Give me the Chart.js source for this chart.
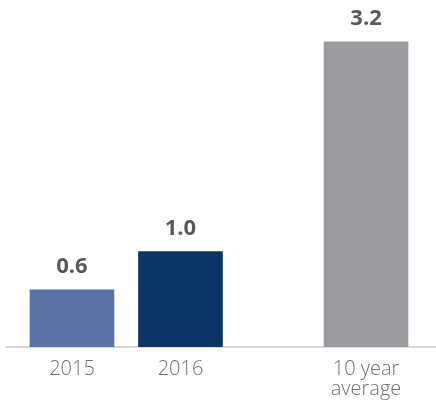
<!DOCTYPE html>
<html>
<head>
<meta charset="utf-8">
<script src="https://cdn.jsdelivr.net/npm/chart.js@4"></script>
<style>
  html, body { margin: 0; padding: 0; background: #fff; }
  #wrap { width: 436px; height: 410px; }
</style>
</head>
<body>
<div id="wrap"><canvas id="barChart"></canvas></div>
<script>
// Chart data
const categories = ['2015', '2016', '10 year average'];
const values = [0.6, 1.0, 3.2];
const barColors = ['#5a72a6', '#0b3567', '#9b9b9f'];
// x slot of each bar (the average sits apart from the yearly bars)
const slots = [0, 1, 2.71];

// Split long category names over two lines
function tickLabel(name) {
    return name === '10 year average' ? ['10 year', 'average'] : name;
}

// Draw the value above each bar
const valueLabels = {
    id: 'valueLabels',
    afterDatasetsDraw(chart) {
        const ctx = chart.ctx;
        const meta = chart.getDatasetMeta(0);
        ctx.save();
        ctx.font = 'bold 22px "Open Sans"';
        ctx.fillStyle = '#58595b';
        ctx.textAlign = 'center';
        ctx.textBaseline = 'middle';
        meta.data.forEach((bar, i) => {
            ctx.fillText(values[i].toFixed(1), bar.x, bar.y - 23);
        });
        ctx.restore();
    }
};

new Chart(document.getElementById('barChart'), {
    type: 'bar',
    data: {
        datasets: [{
            data: values.map((v, i) => ({ x: slots[i], y: v })),
            backgroundColor: barColors,
            barThickness: 84
        }]
    },
    options: {
        responsive: true,
        maintainAspectRatio: false,
        animation: false,
        layout: { padding: { left: 6, right: 0, top: 0, bottom: 0 } },
        plugins: {
            legend: { display: false },
            tooltip: { enabled: false }
        },
        scales: {
            x: {
                type: 'linear',
                offset: false,
                min: -0.608,
                max: 3.355,
                grid: { display: false, drawTicks: false },
                border: { display: true, color: '#d9d9d9', width: 2 },
                afterBuildTicks: scale => {
                    scale.ticks = slots.map(v => ({ value: v }));
                },
                afterFit: scale => { scale.height = 63; },
                ticks: {
                    padding: 12,
                    color: '#6d6e71',
                    font: { family: '"Open Sans"', size: 20, weight: '300', lineHeight: 1.0 },
                    callback: (value) => {
                        const i = slots.indexOf(value);
                        return i >= 0 ? tickLabel(categories[i]) : '';
                    }
                }
            },
            y: {
                display: false,
                min: 0,
                max: 3.64
            }
        }
    },
    plugins: [valueLabels]
});
</script>
</body>
</html>
